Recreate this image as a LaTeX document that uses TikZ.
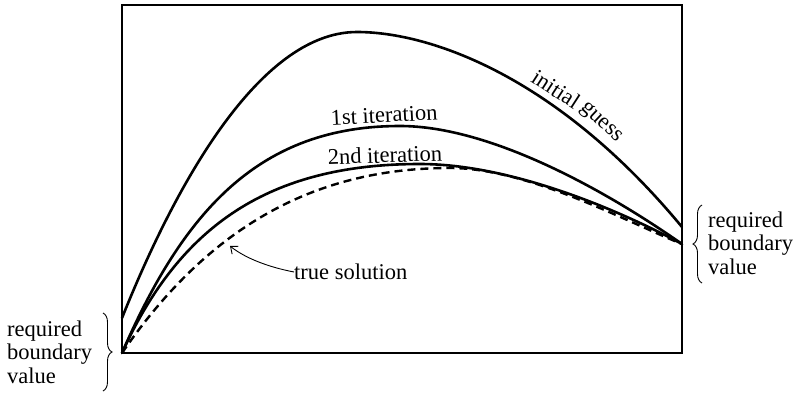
\documentclass[tikz,border=0pt]{standalone}
\usepackage{fontspec}
\setmainfont{Liberation Serif}
\usetikzlibrary{decorations.pathreplacing,arrows.meta}
\begin{document}
\begin{tikzpicture}[x=1pt,y=-1pt,
  curve/.style={line width=2.6pt, line cap=round, line join=round},
  truecurve/.style={line width=2.4pt, dash pattern=on 8pt off 5pt},
  lbl/.style={font=\fontsize{22.5}{23.5}\selectfont, inner sep=0pt},
  bracestyle/.style={decorate, decoration={brace, amplitude=9pt}, line width=0.9pt},
  frame/.style={line width=1.3pt}]
\useasboundingbox (0,0) rectangle (806,394);
% frame
\draw[frame] (122,5) rectangle (682,353);
% initial guess
\draw[curve] (122,318) .. controls (172,193) and (257,32) .. (357,32)
                       .. controls (430,32) and (557,76) .. (682,227);
% 1st iteration
\draw[curve] (122,353) .. controls (184,210) and (260,126) .. (400,126)
                       .. controls (490,126) and (605,190) .. (682,244);
% 2nd iteration
\draw[curve] (122,353) .. controls (180,225) and (270,164) .. (420,164)
                       .. controls (500,164) and (600,200) .. (682,244);
% true solution
\draw[truecurve] (122,353) .. controls (212,222) and (320,168) .. (450,168)
                           .. controls (528,168) and (625,221) .. (682,244);
% labels on curves
\node[lbl, rotate=-33] (ig1) at (556,89) {initial};
\node[lbl, rotate=-43] (ig2) at (601,123) {guess};
\node[lbl, rotate=3] (it1) at (384,115) {1st iteration};
\node[lbl, rotate=2] (it2) at (385,155) {2nd iteration};
% true solution label and arrow
\node[lbl, anchor=west] (ts) at (294,272) {true solution};
\coordinate (tip) at (230,246);
\draw[line width=0.9pt, -{Straight Barb[length=6pt,width=10pt]}] (ts.west) .. controls (268,267) and (245,258) .. (tip);
% boundary labels
\node[lbl, anchor=west, align=left] (lbv) at (7,352) {required\\boundary\\value};
\node[lbl, anchor=west, align=left] (rbv) at (708,243) {required\\boundary\\value};
\coordinate (lbt) at (103,313);
\coordinate (lbb) at (103,391);
\coordinate (rbt) at (702,205);
\coordinate (rbb) at (702,283);
\draw[bracestyle] (lbt) -- (lbb);
\draw[bracestyle] (rbb) -- (rbt);
\end{tikzpicture}
\end{document}
